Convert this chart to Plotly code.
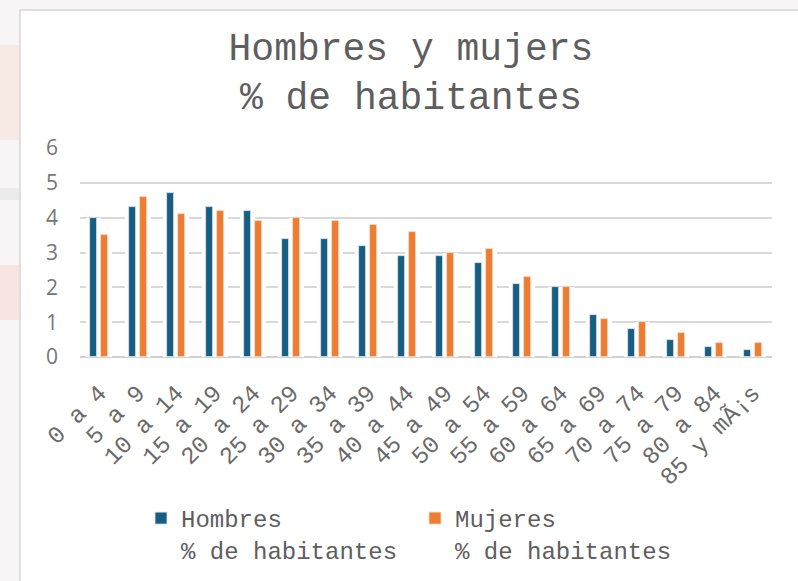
import plotly.graph_objects as go

# Grupos de edad (the last label keeps its original encoding)
grupos = ["0 a 4", "5 a 9", "10 a 14", "15 a 19", "20 a 24", "25 a 29",
          "30 a 34", "35 a 39", "40 a 44", "45 a 49", "50 a 54", "55 a 59",
          "60 a 64", "65 a 69", "70 a 74", "75 a 79", "80 a 84", "85 y mÃ¡s"]

hombres = [4.0, 4.3, 4.7, 4.3, 4.2, 3.4, 3.4, 3.2, 2.9, 2.9, 2.7, 2.1,
           2.0, 1.2, 0.8, 0.5, 0.3, 0.2]
mujeres = [3.5, 4.6, 4.1, 4.2, 3.9, 4.0, 3.9, 3.8, 3.6, 3.0, 3.1, 2.3,
           2.0, 1.1, 1.0, 0.7, 0.4, 0.4]

y_ticks = [0, 1, 2, 3, 4, 5, 6]

AZUL = "#175e82"
NARANJA = "#ed7d31"
MONO = "Liberation Mono, Courier New, monospace"
SANS = "Open Sans, Noto Sans, sans-serif"

W, H = 798, 581
L, R, T, B = 80, 26, 148, 224
pw, ph = W - L - R, H - T - B

# bar geometry in category units
bw = 0.182
centre = 0.143
pad = 0.105

fig = go.Figure()

# white halo behind each bar that hides the gridlines around it
for vals, c in ((hombres, -centre), (mujeres, centre)):
    fig.add_trace(go.Bar(
        x=grupos, y=vals, width=bw + 2 * pad, offset=c - bw / 2 - pad,
        marker=dict(color="white", line=dict(width=0)),
        showlegend=False, hoverinfo="skip"))

fig.add_trace(go.Bar(
    x=grupos, y=hombres, width=bw, offset=-centre - bw / 2,
    name="Hombres<br>% de habitantes",
    marker=dict(color=AZUL, line=dict(color="#dfe8ee", width=0.8))))
fig.add_trace(go.Bar(
    x=grupos, y=mujeres, width=bw, offset=centre - bw / 2,
    name="Mujeres<br>% de habitantes",
    marker=dict(color=NARANJA, line=dict(color="#f9dccb", width=0.8))))

def px_x(p):
    return (p - L) / pw

def px_y(p):
    return (H - B - p) / ph

shapes = [
    # faded backdrop blotches along the left edge
    dict(type="rect", xref="paper", yref="paper", layer="below",
         x0=px_x(-5), x1=px_x(19), y0=px_y(140), y1=px_y(45),
         fillcolor="#f7e9e3", line=dict(width=0)),
    dict(type="rect", xref="paper", yref="paper", layer="below",
         x0=px_x(-5), x1=px_x(19), y0=px_y(320), y1=px_y(265),
         fillcolor="#f8e4e2", line=dict(width=0)),
    dict(type="rect", xref="paper", yref="paper", layer="below",
         x0=px_x(-5), x1=px_x(19), y0=px_y(200), y1=px_y(188),
         fillcolor="#ecebeb", line=dict(width=0)),
    # chart frame
    dict(type="rect", xref="paper", yref="paper", layer="below",
         x0=px_x(20), x1=px_x(810), y0=px_y(600), y1=px_y(10),
         fillcolor="white", line=dict(color="#d6d6d6", width=1.5)),
]

fig.update_layout(
    width=W, height=H,
    margin=dict(l=L, r=R, t=T, b=B, autoexpand=False),
    paper_bgcolor="#f7f5f5",
    plot_bgcolor="white",
    barmode="overlay",
    shapes=shapes,
    title=dict(
        text="Hombres y mujers<br>% de habitantes",
        font=dict(family=MONO, size=38, color="#5e5e5e"),
        x=0.515, xanchor="center", xref="container",
        y=1 - 60 / H, yanchor="middle", yref="container"),
    xaxis=dict(
        type="category", tickangle=-45, showgrid=False, automargin=False,
        tickfont=dict(family=MONO, size=24, color="#6a6a6a"),
        ticks="", showline=False, ticklabelstandoff=16,
        range=[-0.5, len(grupos) - 0.5]),
    yaxis=dict(
        range=[0, 6], tickvals=y_ticks, showgrid=True, automargin=False,
        gridcolor="#d9d9d9", gridwidth=1.5,
        zeroline=True, zerolinecolor="#d0d0d0", zerolinewidth=2,
        tickfont=dict(family=SANS, size=21, color="#767676"),
        ticks="", ticklabelstandoff=21),
    legend=dict(
        orientation="h", x=px_x(141), xanchor="left",
        y=px_y(496), yanchor="top", valign="top",
        font=dict(family=MONO, size=24, color="#5e5e5e"),
        entrywidth=229, entrywidthmode="pixels",
        itemwidth=30, bgcolor="rgba(0,0,0,0)", tracegroupgap=0),
    bargap=0,
)

fig.write_html("out.html")
